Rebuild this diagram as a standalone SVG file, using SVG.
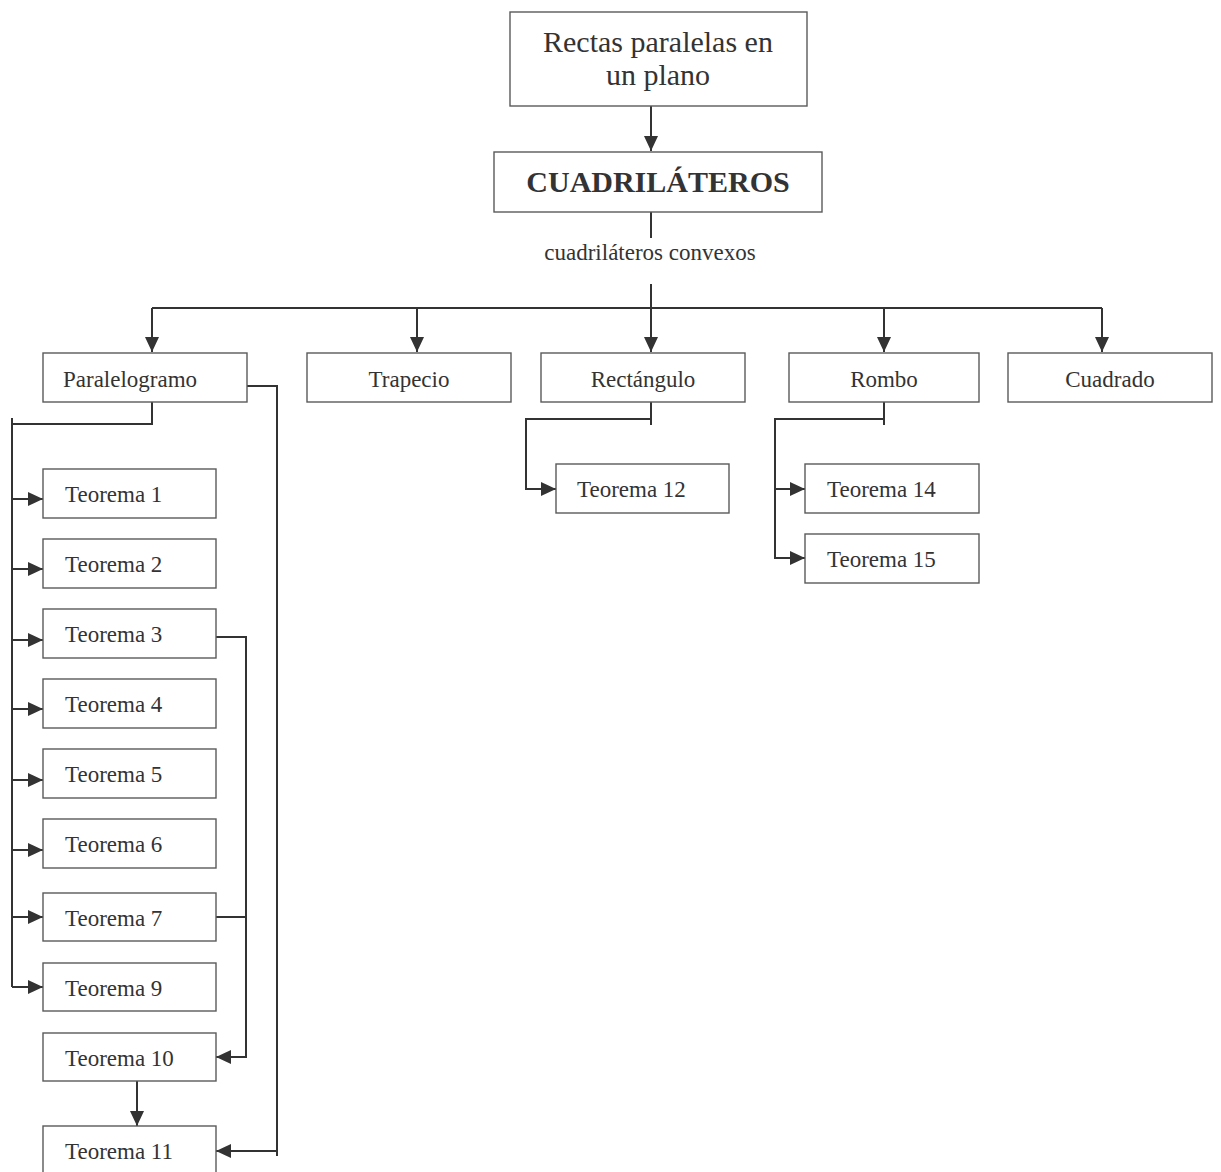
<svg xmlns="http://www.w3.org/2000/svg" width="1221" height="1172" viewBox="0 0 1221 1172">
<style>
.box{fill:#fff;stroke:#5a5a5a;stroke-width:1.4}
.t{font-family:"Liberation Serif","Times New Roman",serif;font-size:23px;fill:#333}
.tc{text-anchor:middle}
.big{font-family:"Liberation Serif","Times New Roman",serif;font-size:30px;fill:#333;text-anchor:middle}
.bold{font-weight:bold}
.ln{fill:none;stroke:#333;stroke-width:2}
</style>
<defs>
<marker id="ah" viewBox="0 0 15 14" refX="15" refY="7" markerWidth="15" markerHeight="14" markerUnits="userSpaceOnUse" orient="auto">
<path d="M0,0 L15,7 L0,14 Z" fill="#333"/>
</marker>
</defs>
<rect width="1221" height="1172" fill="#fff"/>
<g id="connectors">
<path class="ln" d="M651,106 V151" marker-end="url(#ah)"/>
<path class="ln" d="M651,212 V238"/>
<path class="ln" d="M651,284 V308"/>
<path class="ln" d="M152,308 H1102"/>
<path class="ln" d="M152,308 V352" marker-end="url(#ah)"/>
<path class="ln" d="M417,308 V352" marker-end="url(#ah)"/>
<path class="ln" d="M651,308 V352" marker-end="url(#ah)"/>
<path class="ln" d="M884,308 V352" marker-end="url(#ah)"/>
<path class="ln" d="M1102,308 V352" marker-end="url(#ah)"/>
<path class="ln" d="M152,402 V424 H12"/>
<path class="ln" d="M12,418 V987"/>
<path class="ln" d="M12,499 H43" marker-end="url(#ah)"/>
<path class="ln" d="M12,569 H43" marker-end="url(#ah)"/>
<path class="ln" d="M12,640 H43" marker-end="url(#ah)"/>
<path class="ln" d="M12,709 H43" marker-end="url(#ah)"/>
<path class="ln" d="M12,780 H43" marker-end="url(#ah)"/>
<path class="ln" d="M12,850 H43" marker-end="url(#ah)"/>
<path class="ln" d="M12,917 H43" marker-end="url(#ah)"/>
<path class="ln" d="M12,987 H43" marker-end="url(#ah)"/>
<path class="ln" d="M247,386 H277 V1156"/>
<path class="ln" d="M277,1151 H216" marker-end="url(#ah)"/>
<path class="ln" d="M216,637 H246 V1057 H216" marker-end="url(#ah)"/>
<path class="ln" d="M216,917 H246"/>
<path class="ln" d="M137,1081 V1126" marker-end="url(#ah)"/>
<path class="ln" d="M651,402 V425"/>
<path class="ln" d="M651,419 H526 V489 H556" marker-end="url(#ah)"/>
<path class="ln" d="M884,402 V425"/>
<path class="ln" d="M884,419 H775 V558 H805" marker-end="url(#ah)"/>
<path class="ln" d="M775,489 H805" marker-end="url(#ah)"/>
</g>
<g id="n-rectas"><rect class="box" x="510" y="12" width="297" height="94"/><text class="big" x="658" y="52">Rectas paralelas en</text><text class="big" x="658" y="85">un plano</text></g>
<g id="n-cuad"><rect class="box" x="494" y="152" width="328" height="60"/><text class="big bold" x="658" y="192">CUADRILÁTEROS</text></g>
<g id="lbl-convexos"><text class="t tc" x="650" y="260">cuadriláteros convexos</text></g>
<g id="n-paralelogramo"><rect class="box" x="43" y="353" width="204" height="49"/><text class="t" x="63" y="387">Paralelogramo</text></g>
<g id="n-trapecio"><rect class="box" x="307" y="353" width="204" height="49"/><text class="t tc" x="409" y="387">Trapecio</text></g>
<g id="n-rectangulo"><rect class="box" x="541" y="353" width="204" height="49"/><text class="t tc" x="643" y="387">Rectángulo</text></g>
<g id="n-rombo"><rect class="box" x="789" y="353" width="190" height="49"/><text class="t tc" x="884" y="387">Rombo</text></g>
<g id="n-cuadrado"><rect class="box" x="1008" y="353" width="204" height="49"/><text class="t tc" x="1110" y="387">Cuadrado</text></g>
<g id="n-t1"><rect class="box" x="43" y="469" width="173" height="49"/><text class="t" x="65" y="502">Teorema 1</text></g>
<g id="n-t2"><rect class="box" x="43" y="539" width="173" height="49"/><text class="t" x="65" y="572">Teorema 2</text></g>
<g id="n-t3"><rect class="box" x="43" y="609" width="173" height="49"/><text class="t" x="65" y="642">Teorema 3</text></g>
<g id="n-t4"><rect class="box" x="43" y="679" width="173" height="49"/><text class="t" x="65" y="712">Teorema 4</text></g>
<g id="n-t5"><rect class="box" x="43" y="749" width="173" height="49"/><text class="t" x="65" y="782">Teorema 5</text></g>
<g id="n-t6"><rect class="box" x="43" y="819" width="173" height="49"/><text class="t" x="65" y="852">Teorema 6</text></g>
<g id="n-t7"><rect class="box" x="43" y="893" width="173" height="48"/><text class="t" x="65" y="926">Teorema 7</text></g>
<g id="n-t9"><rect class="box" x="43" y="963" width="173" height="48"/><text class="t" x="65" y="996">Teorema 9</text></g>
<g id="n-t10"><rect class="box" x="43" y="1033" width="173" height="48"/><text class="t" x="65" y="1066">Teorema 10</text></g>
<g id="n-t11"><rect class="box" x="43" y="1126" width="173" height="60"/><text class="t" x="65" y="1159">Teorema 11</text></g>
<g id="n-t12"><rect class="box" x="556" y="464" width="173" height="49"/><text class="t" x="577" y="497">Teorema 12</text></g>
<g id="n-t14"><rect class="box" x="805" y="464" width="174" height="49"/><text class="t" x="827" y="497">Teorema 14</text></g>
<g id="n-t15"><rect class="box" x="805" y="534" width="174" height="49"/><text class="t" x="827" y="567">Teorema 15</text></g>
</svg>
